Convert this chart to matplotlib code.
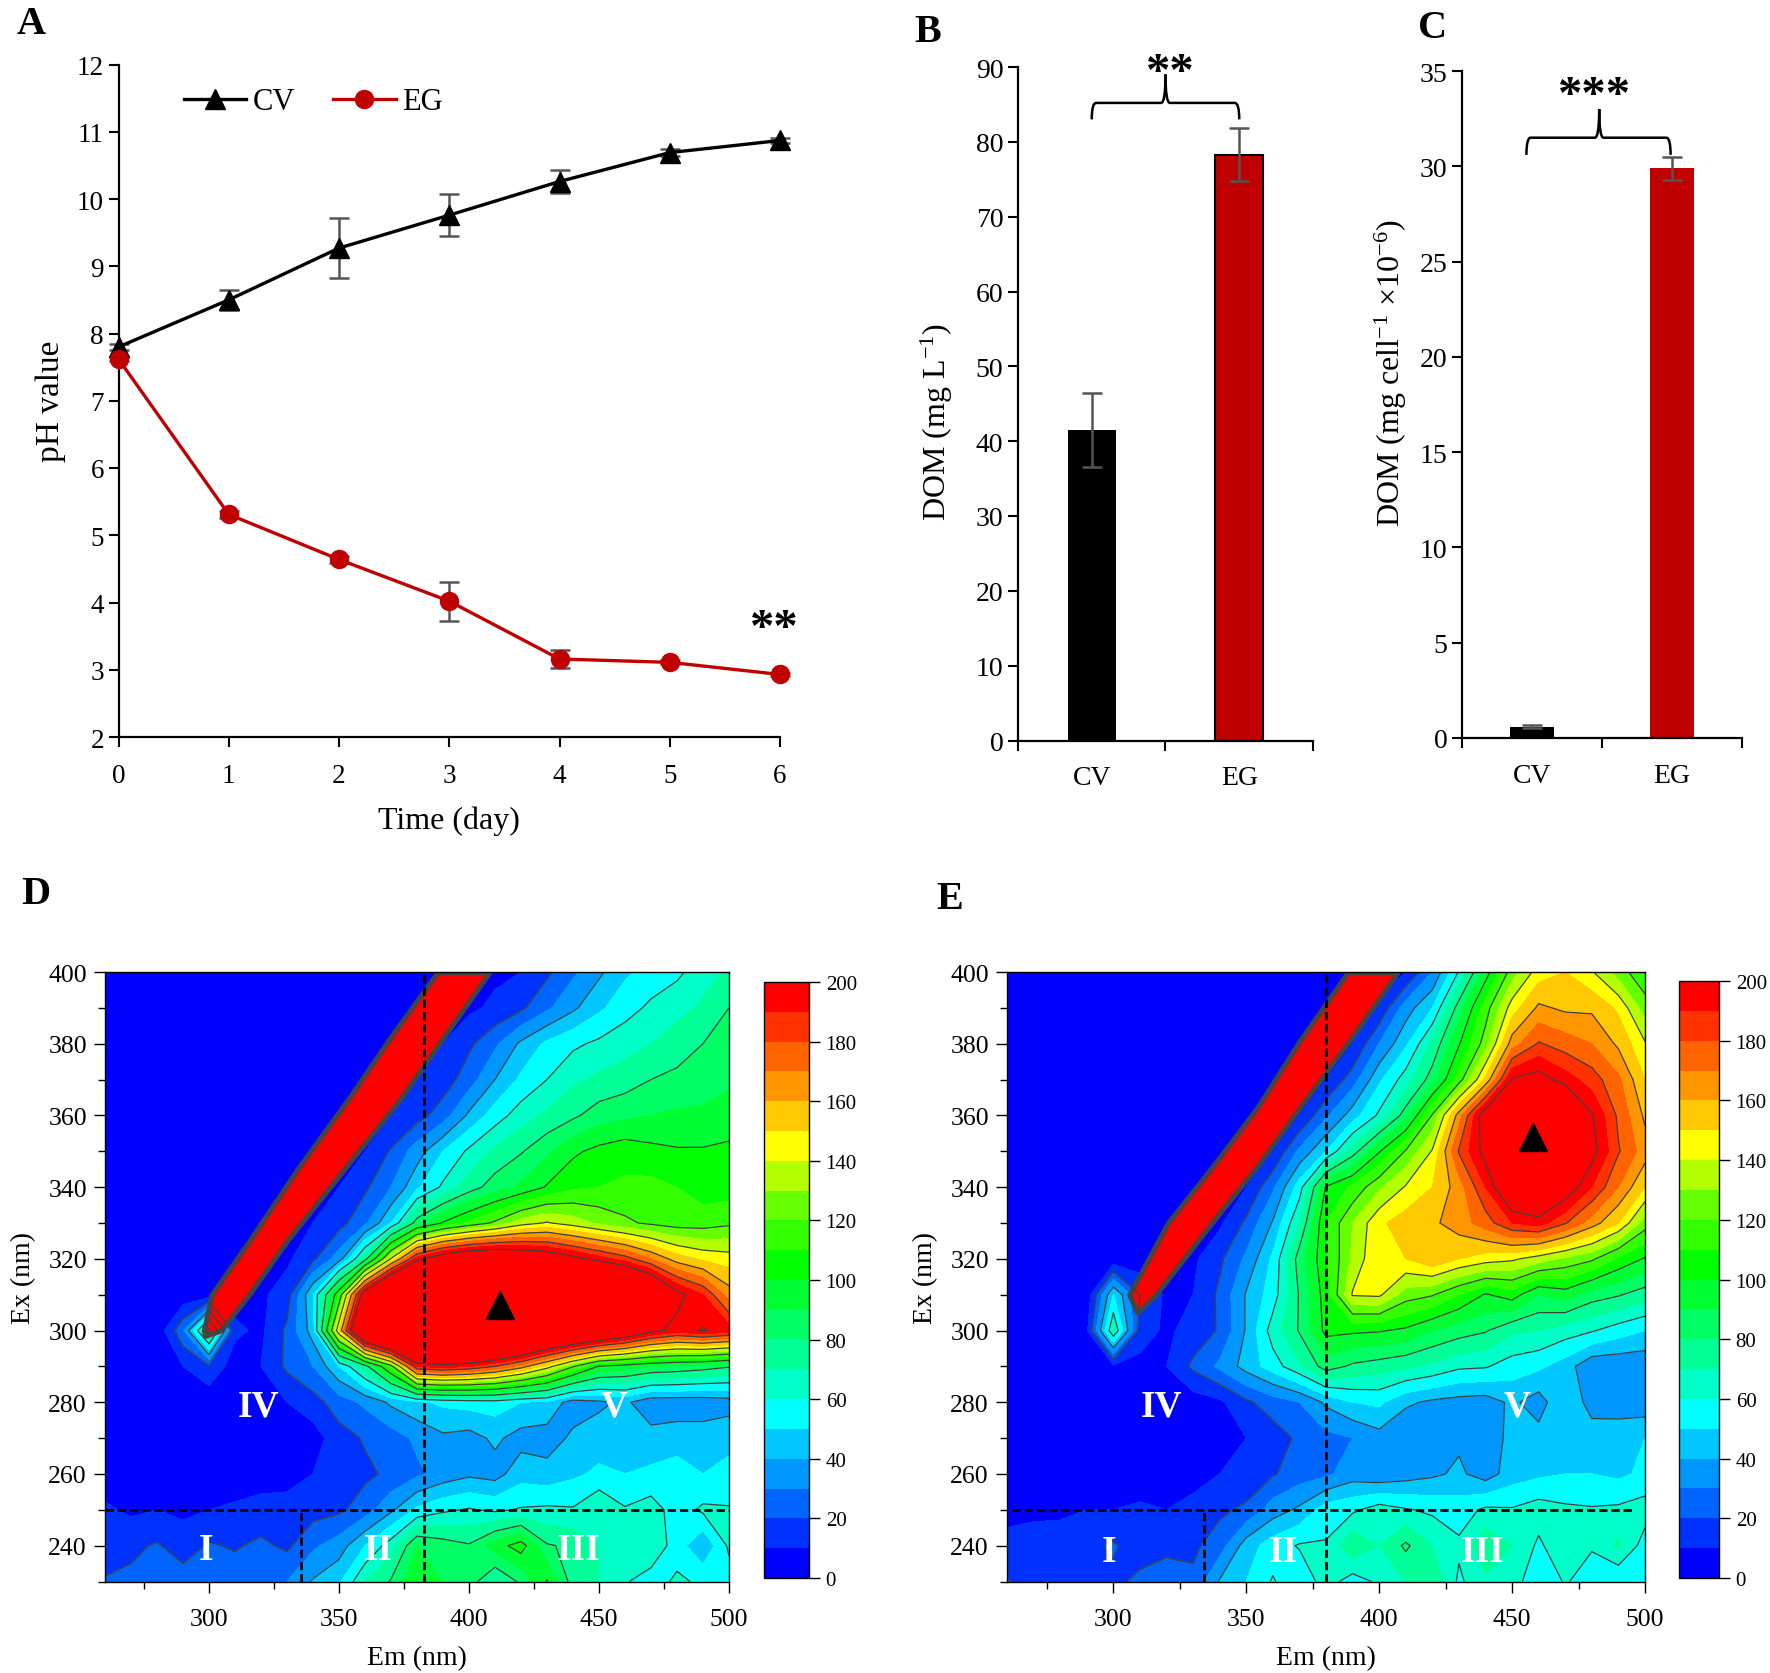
import matplotlib
matplotlib.use('Agg')
import matplotlib.pyplot as plt
import numpy as np
from matplotlib.cm import ScalarMappable
from matplotlib.colors import BoundaryNorm, ListedColormap
from matplotlib.patches import PathPatch
from matplotlib.path import Path
from matplotlib.ticker import MultipleLocator

plt.rcParams['font.family'] = ['Liberation Serif', 'DejaVu Serif']
plt.rcParams['mathtext.default'] = 'regular'

W, H = 1770, 1674

# panel A
days = [0, 1, 2, 3, 4, 5, 6]
ph_cv = [7.8, 8.5, 9.27, 9.76, 10.26, 10.69, 10.87]
ph_cv_err = [0.05, 0.15, 0.45, 0.31, 0.17, 0.05, 0.03]
ph_eg = [7.62, 5.31, 4.64, 4.02, 3.16, 3.11, 2.93]
ph_eg_err = [0.03, 0.05, 0.05, 0.29, 0.14, 0.03, 0.02]

# panels B, C
groups = ['CV', 'EG']
dom_l = [41.5, 78.3]
dom_l_err = [5.0, 3.6]
dom_cell = [0.6, 29.9]
dom_cell_err = [0.1, 0.6]

# panels D, E: intensity read by eye, rows run from Ex 400 down to Ex 230
em_nm = list(range(260, 510, 10))
ex_nm = list(range(400, 220, -10))

eem_cv = [
    [3,3,3,3,3,3,3,3,3,3,3,3,3,3,6,8,10,18,28,38,48,54,58,65,72],
    [3,3,3,3,3,3,3,3,3,3,3,3,3,6,8,12,18,28,38,48,56,62,66,72,80],
    [3,3,3,3,3,3,3,3,3,3,3,3,6,10,18,28,42,52,58,62,66,70,76,80,85],
    [3,3,3,3,3,3,3,3,3,3,3,6,10,15,25,40,52,60,68,72,75,80,82,85,88],
    [3,3,3,3,3,3,3,3,3,3,6,10,16,25,42,55,65,72,78,85,88,90,92,92,95],
    [3,3,3,3,3,3,3,3,3,6,10,21,35,50,62,72,79,88,98,103,106,103,101,101,102],
    [3,3,3,3,3,3,3,3,6,10,18,30,48,62,75,85,92,101,108,110,112,113,110,105,105],
    [3,3,3,3,3,3,3,6,10,16,28,50,85,101,112,122,135,141,135,128,122,118,115,115,118],
    [3,3,3,3,3,3,6,8,18,35,75,141,195,215,225,228,222,215,205,195,185,170,155,148,145],
    [3,3,3,3,4,6,8,15,50,110,215,280,300,300,300,300,300,300,300,280,265,240,205,190,165],
    [3,3,3,28,85,12,8,22,45,150,260,300,300,300,300,290,280,260,250,240,225,205,195,201,195],
    [3,3,3,10,18,5,10,22,30,50,75,115,190,195,190,180,165,145,121,99,95,90,88,85,81],
    [3,3,3,3,3,4,6,10,16,25,32,42,48,52,54,55,50,48,35,38,42,33,33,33,35],
    [3,3,3,3,3,3,3,4,5,16,21,25,32,38,36,42,36,35,42,45,46,44,46,46,48],
    [3,3,3,3,3,3,5,6,10,15,18,22,28,34,38,36,46,44,48,52,50,52,54,50,52],
    [12,8,10,8,10,12,14,14,16,18,25,38,52,58,61,58,61,62,61,70,61,65,55,62,61],
    [14,18,21,15,21,19,22,18,28,35,50,65,90,85,81,95,105,81,78,70,62,68,55,41,62],
    [21,22,24,25,23,25,30,30,41,48,70,81,99,90,85,70,82,101,75,70,61,55,62,58,55],
]

eem_eg = [
    [3,3,3,3,3,3,3,3,3,3,3,3,3,3,6,10,30,61,95,125,145,150,141,125,112],
    [3,3,3,3,3,3,3,3,3,3,3,3,3,6,12,35,50,85,115,145,162,158,158,148,125],
    [3,3,3,3,3,3,3,3,3,3,3,3,6,10,30,48,72,99,125,165,181,175,170,158,141],
    [3,3,3,3,3,3,3,3,3,3,3,6,10,25,48,65,85,115,152,201,206,195,185,172,150],
    [3,3,3,3,3,3,3,3,3,3,6,10,28,45,62,85,121,165,210,240,240,230,201,178,158],
    [3,3,3,3,3,3,3,3,3,6,10,32,50,75,99,121,141,181,205,240,240,235,205,181,165],
    [3,3,3,3,3,3,3,3,6,10,28,55,101,112,128,141,150,165,190,220,225,210,190,170,150],
    [3,3,3,3,3,3,3,6,8,22,41,70,110,130,148,155,158,165,175,190,195,181,165,150,125],
    [3,3,3,3,3,3,6,8,18,32,52,85,108,132,150,150,158,150,145,142,135,128,122,108,99],
    [3,3,3,3,50,20,8,10,22,41,55,81,105,141,142,125,121,110,99,105,90,95,85,81,75],
    [3,3,3,8,70,15,8,14,21,41,65,81,103,102,101,98,90,85,81,72,70,65,61,55,50],
    [3,3,3,3,8,7,10,22,32,44,55,68,85,78,75,72,68,62,61,55,52,45,32,32,32],
    [3,3,3,3,3,3,3,5,8,18,25,30,42,50,52,42,38,36,35,42,35,50,35,33,33],
    [3,3,3,3,3,3,3,3,5,10,15,22,27,30,36,30,33,38,32,44,44,46,46,48,50],
    [3,3,3,3,3,3,3,4,10,13,19,25,28,35,32,35,38,42,35,45,48,50,50,48,52],
    [8,6,8,10,10,12,10,15,18,22,35,42,55,58,65,61,58,55,62,61,65,62,61,62,65],
    [12,18,15,18,21,16,18,18,25,45,55,61,61,78,70,82,70,62,78,70,58,68,61,72,55],
    [21,15,16,16,18,22,24,22,41,50,61,52,65,55,62,70,78,58,68,65,52,61,55,50,50],
]

# scatter band (saturated diagonal), edges in Em at each Ex
band_cv_ex = [298.5, 300, 310, 325, 345, 365, 382, 400]
band_cv_left = [298.5, 298, 301, 315.5, 334, 354, 370, 388]
band_cv_right = [298.5, 304.5, 315.4, 330, 352, 374, 390.4, 408]
band_eg_ex = [305, 310, 330, 346, 362, 381, 400]
band_eg_left = [309, 306, 320.5, 337.6, 354, 370.3, 388.3]
band_eg_right = [309, 316, 337, 354.3, 370, 389, 407]

level_colors = ['#0000ff', '#0032ff', '#0064ff', '#0096ff', '#00c8ff',
                '#00ffff', '#00ffc8', '#00ff96', '#00ff64', '#00ff32',
                '#00ff00', '#32ff00', '#64ff00', '#b4ff00', '#ffff00',
                '#ffc800', '#ff9600', '#ff6400', '#ff3200', '#ff0000']
RED = '#c00000'


def px_axes(left, top, right, bottom):
    return plt.figure(1).add_axes([left / W, 1 - bottom / H, (right - left) / W, (bottom - top) / H])


def clean_axes(ax, size):
    ax.spines[['top', 'right']].set_visible(False)
    ax.spines[['left', 'bottom']].set_linewidth(1.6)
    ax.tick_params(which='major', width=1.5, length=7, labelsize=size, color='black')


def draw_brace(ax, x0, x1, xm, y_end, y_bar, y_top):
    # curly bracket over two bars
    r = (x1 - x0) * 0.03
    verts = [(x0, y_end), (x0, y_bar), (x0 + r, y_bar),
             (xm - r, y_bar), (xm, y_bar), (xm, y_top),
             (xm, y_bar), (xm + r, y_bar),
             (x1 - r, y_bar), (x1, y_bar), (x1, y_end)]
    codes = [Path.MOVETO, Path.CURVE3, Path.CURVE3,
             Path.LINETO, Path.CURVE3, Path.CURVE3,
             Path.CURVE3, Path.CURVE3,
             Path.LINETO, Path.CURVE3, Path.CURVE3]
    ax.add_patch(PathPatch(Path(verts, codes), facecolor='none', edgecolor='black',
                           linewidth=1.8, clip_on=False))


def bar_panel(ax, values, errs, ymax, step, ylabel, width, edge, label_y, label_pad):
    pos = [0.5, 1.5]
    ax.bar(pos[0], values[0], width, color='black')
    ax.bar(pos[1], values[1], width, color=RED, edgecolor=edge, linewidth=1.5)
    ax.errorbar(pos, values, yerr=errs, fmt='none', ecolor='#555555', elinewidth=1.8, capsize=7, capthick=1.8)
    ax.set_xlim(0, 2)
    ax.set_ylim(0, ymax)
    ax.yaxis.set_major_locator(MultipleLocator(step))
    ax.set_xticks([0, 1, 2])
    ax.set_xticklabels([])
    ax.set_xticks(pos, groups, minor=True)
    clean_axes(ax, 20)
    ax.tick_params(axis='x', which='minor', length=0, labelsize=20, pad=18)
    ax.set_ylabel(ylabel, fontsize=23, labelpad=label_pad, y=label_y)


def eem_panel(box, cbar_box, grid, band, cut_x, cut_top, h_range, peak, labels):
    ax = px_axes(*box)
    z = np.array(grid, dtype=float)
    cmap = ListedColormap(level_colors)
    cmap.set_over('#ff0000')
    levels = np.arange(0, 210, 10)
    ax.contourf(em_nm, ex_nm, z, levels=levels, cmap=cmap, extend='max')
    ax.contour(em_nm, ex_nm, z, levels=np.arange(20, 220, 20), colors='#404040', linewidths=0.9)
    ax.fill_betweenx(band[0], band[1], band[2], facecolor='#ff0000', edgecolor='#444444', linewidth=3.6)
    ax.set_xlim(260, 500)
    ax.set_ylim(230, 400)
    ax.xaxis.set_major_locator(MultipleLocator(50))
    ax.xaxis.set_minor_locator(MultipleLocator(25))
    ax.yaxis.set_major_locator(MultipleLocator(20))
    ax.yaxis.set_minor_locator(MultipleLocator(10))
    ax.set_xticks([300, 350, 400, 450, 500])
    ax.tick_params(which='major', length=8, width=1, labelsize=18.5, pad=5)
    ax.tick_params(axis='x', which='major', pad=11)
    ax.tick_params(which='minor', length=5, width=1)
    for s in ax.spines.values():
        s.set_linewidth(1)
        s.set_zorder(5)
    ax.set_xlabel('Em (nm)', fontsize=20, labelpad=11)
    ax.set_ylabel('Ex (nm)', fontsize=20, labelpad=9)

    ax.plot(h_range, [250, 250], color='black', linewidth=2, dashes=(3, 1.4))
    ax.plot([cut_x, cut_x], [230, 400], color='black', linewidth=2, dashes=(3, 1.4))
    ax.plot([cut_top, cut_top], [230, 250], color='black', linewidth=2, dashes=(3, 1.4))
    ax.plot(*peak, marker='^', color='black', markersize=20, linestyle='none')
    for x, y, s in labels:
        ax.text(x, y, s, color='white', fontsize=27, fontweight='bold', ha='center', va='center')

    cax = px_axes(*cbar_box)
    mappable = ScalarMappable(norm=BoundaryNorm(levels, len(level_colors)), cmap=ListedColormap(level_colors))
    cb = plt.figure(1).colorbar(mappable, cax=cax, ticks=np.arange(0, 220, 20), spacing='proportional')
    cb.ax.tick_params(labelsize=15, length=8, width=1, pad=4)
    cb.outline.set_linewidth(1)
    cb.minorticks_off()


fig = plt.figure(1, figsize=(W / 100, H / 100), dpi=100, facecolor='white')

# A
ax_a = px_axes(118.5, 65.5, 780, 738)
ax_a.errorbar(days, ph_cv, yerr=ph_cv_err, color='black', ecolor='#555555', linewidth=2.4, elinewidth=1.8,
              capsize=7, capthick=1.8, marker='^', markersize=14, label='CV', zorder=3)
ax_a.errorbar(days, ph_eg, yerr=ph_eg_err, color=RED, ecolor='#555555', linewidth=2.4, elinewidth=1.8,
              capsize=7, capthick=1.8, marker='o', markersize=13, label='EG', zorder=3)
ax_a.set_xlim(0, 6)
ax_a.set_ylim(2, 12)
ax_a.set_xticks(days)
ax_a.yaxis.set_major_locator(MultipleLocator(1))
clean_axes(ax_a, 19.5)
ax_a.tick_params(axis='x', pad=12)
for art in ax_a.lines:
    art.set_clip_on(False)
ax_a.set_xlabel('Time (day)', fontsize=23, labelpad=12)
ax_a.set_ylabel('pH value', fontsize=24, labelpad=8)
handles, names = ax_a.get_legend_handles_labels()
handles = [h[0] for h in handles]
ax_a.legend(handles, names, loc='upper left', bbox_to_anchor=(0.08, 0.984), ncol=2, frameon=False,
            fontsize=22, handlelength=2.05, handletextpad=0.2, columnspacing=1.25, borderaxespad=0)
ax_a.text(5.95, 3.6, '**', fontsize=35, fontweight='bold', ha='center', va='center')

# B
ax_b = px_axes(1018, 68, 1313, 741.5)
bar_panel(ax_b, dom_l, dom_l_err, 90, 10, 'DOM (mg L$^{-1}$)', 0.325, 'black', 0.474, 15)
draw_brace(ax_b, 0.5, 1.5, 1.0, 83, 85.2, 89)
ax_b.text(1.03, 89.2, '**', fontsize=35, fontweight='bold', ha='center', va='center', clip_on=False)

# C
ax_c = px_axes(1462, 72, 1742, 739)
bar_panel(ax_c, dom_cell, dom_cell_err, 35, 5, 'DOM (mg cell$^{-1}$ \u00d710$^{-6}$)', 0.315, 'none', 0.549, 8)
draw_brace(ax_c, 0.46, 1.49, 0.98, 30.6, 31.5, 33)
ax_c.text(0.95, 33.7, '***', fontsize=35, fontweight='bold', ha='center', va='center', clip_on=False)

# D, E
eem_panel((105, 973, 729, 1582.5), (764, 983, 809, 1579), eem_cv, (band_cv_ex, band_cv_left, band_cv_right),
          382.5, 335.5, [260, 500], (412, 307),
          [(319, 279, 'IV'), (456, 279, 'V'), (299, 239, 'I'), (365, 239, 'II'), (442, 239, 'III')])
eem_panel((1007, 973, 1645, 1582.5), (1678.5, 982, 1719, 1579), eem_eg, (band_eg_ex, band_eg_left, band_eg_right),
          380, 334, [262, 495], (458, 354),
          [(318, 279, 'IV'), (452, 279, 'V'), (298.5, 238.5, 'I'), (364, 238.5, 'II'), (439, 238.5, 'III')])

for s, x, y in [('A', 31, 25), ('B', 928, 33), ('C', 1433, 29), ('D', 36, 895), ('E', 950, 900)]:
    fig.text(x / W, 1 - y / H, s, fontsize=29, fontweight='bold', ha='center', va='center')

fig.savefig('out.png', dpi=100)
